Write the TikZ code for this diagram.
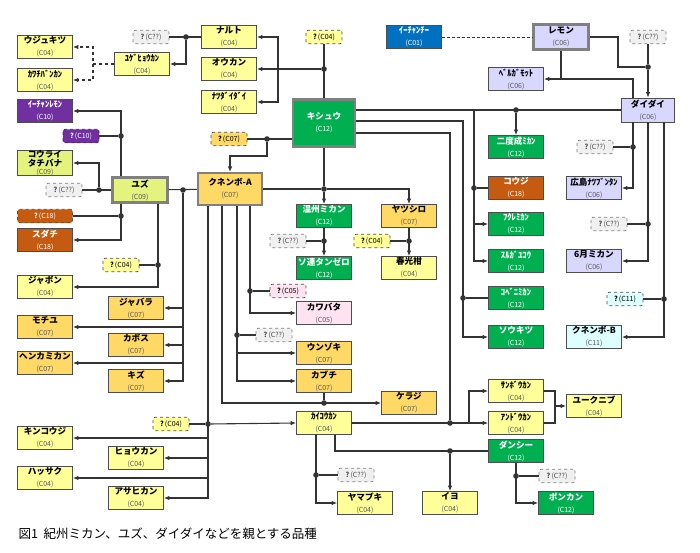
\documentclass[tikz,border=0pt]{standalone}
\usepackage{fontspec}
\setmainfont{Noto Sans CJK JP}
\usepackage{xcolor}
\usepackage{tikz}
\usetikzlibrary{arrows.meta, positioning}
\definecolor{cfour}{HTML}{FFFF99}
\definecolor{cseven}{HTML}{FFD966}
\definecolor{cnine}{HTML}{E4F27E}
\definecolor{cten}{HTML}{7030A0}
\definecolor{ctwelve}{HTML}{00B050}
\definecolor{ceighteen}{HTML}{C55A11}
\definecolor{csix}{HTML}{D8D8FF}
\definecolor{cfive}{HTML}{FFE3F1}
\definecolor{celeven}{HTML}{DDFFFF}
\definecolor{cone}{HTML}{0070C0}
\definecolor{cunk}{HTML}{F0F0F0}
\definecolor{boxedge}{HTML}{4D4D4D}
\definecolor{twinedge}{HTML}{808080}
\definecolor{wire}{HTML}{333333}

\newcommand{\cv}[2]{{\fontsize{8.6}{9.8}\selectfont\bfseries #1}\\{\fontsize{7}{8}\selectfont\color{.!65!white}(#2)}}
\newcommand{\uq}[1]{{\bfseries ?}\,(#1)}

\tikzset{
    cult/.style={draw=boxedge, line width=0.8pt, minimum width=55pt, minimum height=23pt,
        inner sep=0pt, align=center, text=black},
    twin/.style={draw=twinedge, line width=2.2pt},
    qbox/.style={draw=boxedge, dashed, rounded corners=2pt, line width=0.8pt, minimum width=36pt,
        minimum height=13.5pt, inner sep=0pt, font=\fontsize{7}{8}\selectfont, fill=cunk},
    qgrey/.style={draw=gray, fill=cunk, text=black!70},
    c04/.style={fill=cfour},
    c05/.style={fill=cfive},
    c06/.style={fill=csix},
    c07/.style={fill=cseven},
    c09/.style={fill=cnine},
    c10/.style={fill=cten, text=white},
    c11/.style={fill=celeven},
    c12/.style={fill=ctwelve, text=white},
    c18/.style={fill=ceighteen, text=white},
    c01/.style={fill=cone, text=white},
    jn/.style={circle, fill=wire, inner sep=0pt, minimum size=5.6pt},
    ln/.style={draw=wire, line width=1.1pt},
    ar/.style={ln, -{Latex[length=5.5pt, width=4.6pt]}},
    dar/.style={ar, dashed},
}

\begin{document}
\begin{tikzpicture}[x=1pt, y=-1pt]
    \fill[white] (0,0) rectangle (700,552);
    \useasboundingbox (0,0) rectangle (700,552);

    % left column
    \node[cult, c04] (ujk) at (45,47) {\cv{ウジュキツ}{C04}};
    \node[cult, c04] (kwc) at (45,80) {\cv{ｶﾜﾁﾊﾞﾝｶﾝ}{C04}};
    \node[cult, c10] (ichl) at (45,111) {\cv{ｲｰﾁｬﾝﾚﾓﾝ}{C10}};
    \node[qbox, c10, draw=cten!60!black] (u10) at (81,136) {\uq{C10}};
    \node[cult, c09, font=\fontsize{8.6}{7}\selectfont\bfseries] (kora) at (45,163) {コウライ\\タチバナ\\[1pt]\fontsize{7}{8}\selectfont\mdseries\color{.!65!white}(C09)};
    \node[qbox, qgrey] (ukq1) at (64,190) {\uq{C??}};
    \node[cult, c09, twin, minimum height=25pt] (yuzu) at (140,190) {\cv{ユズ}{C09}};
    \node[qbox, c18, minimum width=55pt] (u18) at (45,216) {\uq{C18}};
    \node[cult, c18] (sudachi) at (45,240) {\cv{スダチ}{C18}};
    \node[qbox, c04] (u04a) at (121,265) {\uq{C04}};
    \node[cult, c04] (jabon) at (45,287) {\cv{ジャボン}{C04}};
    \node[cult, c07] (jabara) at (136,308) {\cv{ジャバラ}{C07}};
    \node[cult, c07] (mochiyu) at (45,327) {\cv{モチユ}{C07}};
    \node[cult, c07] (kabosu) at (136,345) {\cv{カボス}{C07}};
    \node[cult, c07] (henka) at (45,363) {\cv{ヘンカミカン}{C07}};
    \node[cult, c07] (kizu) at (136,381) {\cv{キズ}{C07}};
    \node[qbox, c04] (u04b) at (171,424) {\uq{C04}};
    \node[cult, c04] (kinkoji) at (45,438) {\cv{キンコウジ}{C04}};
    \node[cult, c04] (hyokan) at (136,458) {\cv{ヒョウカン}{C04}};
    \node[cult, c04] (hassaku) at (45,478) {\cv{ハッサク}{C04}};
    \node[cult, c04] (asahi) at (136,498) {\cv{アサヒカン}{C04}};

    % upper middle
    \node[qbox, qgrey] (ukq0) at (151,37) {\uq{C??}};
    \node[cult, c04] (yuge) at (142,64) {\cv{ﾕｹﾞﾋｮｳｶﾝ}{C04}};
    \node[cult, c04] (naruto) at (229,37) {\cv{ナルト}{C04}};
    \node[cult, c04] (okan) at (229,69) {\cv{オウカン}{C04}};
    \node[cult, c04] (natsu) at (229,102) {\cv{ﾅﾂﾀﾞｲﾀﾞｲ}{C04}};
    \node[qbox, c04] (u04c) at (324,37) {\uq{C04}};
    \node[cult, c12, twin, minimum width=62pt, minimum height=47pt] (kishu) at (324,123) {\cv{キシュウ}{C12}};
    \node[qbox, c07] (u07) at (229,139) {\uq{C07}};
    \node[cult, c07, twin, minimum width=64pt, minimum height=32pt] (kunA) at (230,189) {\cv{クネンボ-A}{C07}};
    \node[cult, c12] (unshu) at (324,216) {\cv{温州ミカン}{C12}};
    \node[qbox, qgrey] (ukq2) at (288,241) {\uq{C??}};
    \node[cult, c12] (soren) at (324,268) {\cv{ソ連タンゼロ}{C12}};
    \node[cult, c07] (yatsu) at (409,216) {\cv{ヤツシロ}{C07}};
    \node[qbox, c04] (u04d) at (372,241) {\uq{C04}};
    \node[cult, c04] (shunko) at (409,268) {\cv{春光柑}{C04}};
    \node[qbox, c05] (u05) at (288,291) {\uq{C05}};
    \node[cult, c05] (kawa) at (324,313) {\cv{カワバタ}{C05}};
    \node[qbox, qgrey] (ukq3) at (274,335) {\uq{C??}};
    \node[cult, c07] (unzo) at (324,353) {\cv{ウンゾキ}{C07}};
    \node[cult, c07] (kabu) at (324,381) {\cv{カブチ}{C07}};
    \node[cult, c07] (keraji) at (409,403) {\cv{ケラジ}{C07}};
    \node[cult, c04] (kaiko) at (324,423) {\cv{ｶｲｺｳｶﾝ}{C04}};
    \node[qbox, qgrey] (ukq4) at (356,475) {\uq{C??}};
    \node[cult, c04] (yamabuki) at (365,503) {\cv{ヤマブキ}{C04}};
    \node[cult, c04] (iyo) at (450,503) {\cv{イヨ}{C04}};

    % right side
    \node[cult, c01] (ichc) at (414,37) {\cv{ｲｰﾁｬﾝﾁｰ}{C01}};
    \node[cult, c06, twin, minimum height=25pt] (lemon) at (561,37) {\cv{レモン}{C06}};
    \node[qbox, qgrey] (ukq5) at (648,37) {\uq{C??}};
    \node[cult, c06] (berg) at (516,79) {\cv{ﾍﾞﾙｶﾞﾓｯﾄ}{C06}};
    \node[cult, c06, minimum width=53pt, minimum height=24pt] (daidai) at (648,110) {\cv{ダイダイ}{C06}};
    \node[cult, c12] (nido) at (516,147) {\cv{二度成ﾐｶﾝ}{C12}};
    \node[qbox, qgrey] (ukq6) at (595,147) {\uq{C??}};
    \node[cult, c18] (koji) at (516,188) {\cv{コウジ}{C18}};
    \node[cult, c06] (hiro) at (594,188) {\cv{広島ﾅﾂﾌﾞﾝﾀﾝ}{C06}};
    \node[cult, c12] (fukure) at (516,224) {\cv{ﾌｸﾚﾐｶﾝ}{C12}};
    \node[qbox, qgrey] (ukq7) at (609,224) {\uq{C??}};
    \node[cult, c12] (suruga) at (516,261) {\cv{ｽﾙｶﾞﾕｺｳ}{C12}};
    \node[cult, c06] (rokug) at (594,261) {\cv{6月ミカン}{C06}};
    \node[cult, c12] (kobeni) at (516,298) {\cv{ｺﾍﾞﾆﾐｶﾝ}{C12}};
    \node[qbox, c11] (u11) at (625,299) {\uq{C11}};
    \node[cult, c12] (sokitsu) at (516,337) {\cv{ソウキツ}{C12}};
    \node[cult, c11] (kunB) at (594,337) {\cv{クネンボ-B}{C11}};
    \node[cult, c04] (sanbo) at (516,391) {\cv{ｻﾝﾎﾞｳｶﾝ}{C04}};
    \node[cult, c04] (ando) at (516,423) {\cv{ｱﾝﾄﾞｳｶﾝ}{C04}};
    \node[cult, c04] (yuku) at (594,406) {\cv{ユークニブ}{C04}};
    \node[cult, c12] (danshi) at (516,451) {\cv{ダンシー}{C12}};
    \node[qbox, qgrey] (ukq8) at (557,476) {\uq{C??}};
    \node[cult, c12] (ponkan) at (566,503) {\cv{ポンカン}{C12}};

    \node[anchor=west, font=\fontsize{12.5}{14}\selectfont] (cap) at (15,534) {図1\ \ 紀州ミカン、ユズ、ダイダイなどを親とする品種};

    % junctions and bends
    \node[jn] (j1) at (186,37) {};
    \node[jn] (j2) at (324,69) {};
    \node[jn] (j3) at (121,136) {};
    \node[jn] (j4) at (99,190) {};
    \node[jn] (j5) at (121,216) {};
    \node[jn] (j6) at (158,265) {};
    \node[jn] (j7) at (183,190) {};
    \node[jn] (j8) at (267,139) {};
    \node[jn] (j9) at (324,189) {};
    \node[jn] (j10) at (324,241) {};
    \node[jn] (j11) at (409,241) {};
    \node[jn] (j12) at (250,291) {};
    \node[jn] (j13) at (237,335) {};
    \node[jn] (j14) at (324,403) {};
    \node[jn] (j15) at (208,424) {};
    \node[jn] (j16) at (450,423) {};
    \node[jn] (j18) at (516,110) {};
    \node[jn] (j19) at (474,188) {};
    \node[jn] (j20) at (463,298) {};
    \node[jn] (j21) at (648,67) {};
    \node[jn] (j22) at (633,147) {};
    \node[jn] (j23) at (648,224) {};
    \node[jn] (j24) at (664,299) {};
    \node[jn] (j25) at (450,451) {};
    \node[jn] (j26) at (316,475) {};
    \node[jn] (j27) at (516,476) {};
    \coordinate (c1) at (93,64);
    \coordinate (c2) at (278,69);
    \coordinate (c4) at (222,403);
    \coordinate (c5) at (450,133);
    \coordinate (c6) at (474,110);
    \coordinate (c7) at (463,121);
    \coordinate (c8) at (618,67);
    \coordinate (c9) at (633,79);
    \coordinate (c10) at (555,406);
    \coordinate (c11) at (335,451);
    \coordinate (j17) at (469,423);

    % connectors
    \draw[ln] (ukq0) -- (naruto);
    \draw[ar] (j1) |- (yuge.east);
    \draw[dar] (yuge.west) -- (c1) |- (ujk.east);
    \draw[dar] (c1) |- (kwc.east);
    \draw[ln] (u04c) -- (kishu);
    \draw[ar] (j2) -- (okan.east);
    \draw[ar] (c2) |- (naruto.east);
    \draw[ar] (c2) |- (natsu.east);
    \draw[ar] (yuzu.north -| j3) |- (ichl.east);
    \draw[ln] (u10) -- (j3);
    \draw[ln] (ukq1) -- (yuzu);
    \draw[ar] (j4) |- (kora.east);
    \draw[ar] (yuzu.south -| j5) |- (sudachi.east);
    \draw[ln] (u18) -- (j5);
    \draw[ar] (yuzu.south -| j6) |- (jabon.east);
    \draw[ln] (u04a) -- (j6);
    \draw[ln] (yuzu) -- (kunA);
    \foreach \kid in {jabara, mochiyu, kabosu, henka, kizu}
        \draw[ar] (j7) |- (\kid.east);
    \draw[ln] (u07) -- (u07 -| kishu.west);
    \draw[ar] (j8) -- ++(0,17) -| (kunA.north);
    \draw[ln] (kunA) -- (j9) -- (kishu);
    \draw[ar] (j9) -- (unshu);
    \draw[ar] (j9) -| (yatsu.north);
    \draw[ar] (unshu) -- (soren);
    \draw[ln] (ukq2) -- (j10);
    \draw[ar] (yatsu) -- (shunko);
    \draw[ln] (u04d) -- (j11);
    \draw[ar] (kunA.south -| j12) |- (kawa.west);
    \draw[ln] (j12) -- (u05);
    \draw[ar] (kunA.south -| j13) |- (kabu.west);
    \draw[ar] (j13) |- (unzo.west);
    \draw[ln] (j13) -- (ukq3);
    \draw[ar] (kunA.south -| c4) |- (keraji.west);
    \draw[ln] (kabu) -- (j14);
    \draw[ar] (kunA.south -| j15) |- (asahi.east);
    \foreach \kid in {kinkoji, hyokan, hassaku}
        \draw[ar] (j15) |- (\kid.east);
    \draw[ln] (u04b) -- (j15);
    \draw[ar] (j15) -- (kaiko.west);
    \draw[ln] (kishu.east |- c5) -- (c5) -- (j16);
    \draw[ar] (kaiko) -- (ando);
    \draw[ar] (j17) |- (sanbo.west);
    \draw[ln] (kishu.east |- daidai.west) -- (daidai.west);
    \draw[ar] (j18) -- (nido);
    \draw[ar] (c6) |- (suruga.west);
    \draw[ar] (j19) |- (fukure.west);
    \draw[ln] (j19) -- (koji);
    \draw[ar] (kishu.east |- c7) -- (c7) |- (sokitsu.west);
    \draw[ln] (j20) -- (kobeni);
    \draw[densely dashed, draw=wire, line width=0.7pt] (ichc) -- (lemon);
    \draw[ln] (lemon.east) -| (c8) -- (j21);
    \draw[ln] (ukq5) -- (j21);
    \draw[ar] (j21) -- (daidai);
    \draw[ar] (lemon.south) |- (berg.east);
    \draw[ln] (daidai.north -| c9) -- (c9) -- (lemon.south |- c9);
    \draw[ar] (daidai.south -| j22) |- (hiro.east);
    \draw[ln] (ukq6) -- (j22);
    \draw[ar] (daidai.south -| j23) |- (rokug.east);
    \draw[ln] (ukq7) -- (j23);
    \draw[ar] (daidai.south -| j24) |- (kunB.east);
    \draw[ln] (u11) -- (j24);
    \draw[ln] (sanbo.east) -| (c10);
    \draw[ln] (ando.east) -| (c10);
    \draw[ar] (c10) -- (yuku.west);
    \draw[ln] (kaiko.south -| c11) |- (danshi.west);
    \draw[ar] (j25) -- (iyo);
    \draw[ar] (kaiko.south -| j26) |- (yamabuki.west);
    \draw[ln] (j26) -- (ukq4);
    \draw[ar] (danshi) |- (ponkan.west);
    \draw[ln] (j27) -- (ukq8);
\end{tikzpicture}
\end{document}
